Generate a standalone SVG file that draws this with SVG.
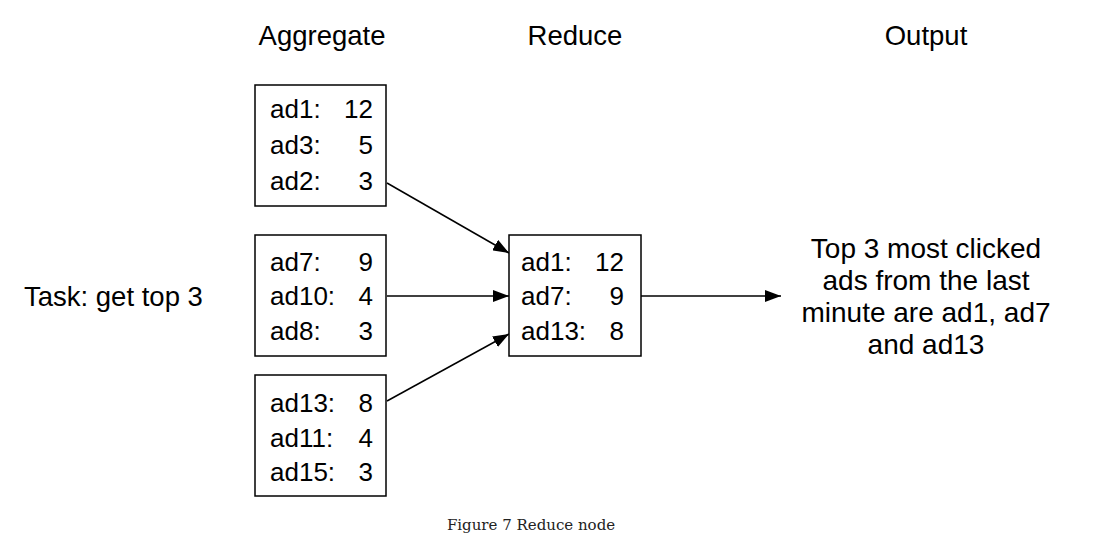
<svg xmlns="http://www.w3.org/2000/svg" width="1113" height="543" viewBox="0 0 1113 543">
<style>
text{font-family:"Liberation Sans",Arial,sans-serif;fill:#000}
.t{font-size:27.5px}
.o{font-size:28px}
.b{font-size:26px}
.n{text-anchor:end}
.c{text-anchor:middle}
.box{fill:#fff;stroke:#000;stroke-width:1.5}
.ln{stroke:#000;stroke-width:1.5;fill:none;marker-end:url(#ah)}
.cap{font-family:"DejaVu Serif",serif;font-size:15px;text-anchor:middle;fill:#222}
</style>
<defs>
<marker id="ah" viewBox="0 0 16 12" refX="16" refY="6" markerWidth="16" markerHeight="12" markerUnits="userSpaceOnUse" orient="auto">
<path d="M0,0 L16,6 L0,12 Z" fill="#000"/>
</marker>
</defs>
<rect width="1113" height="543" fill="#fff"/>
<g id="titles">
<text class="t c" x="322" y="45">Aggregate</text>
<text class="t c" x="575" y="45">Reduce</text>
<text class="t c" x="926" y="45">Output</text>
</g>
<g id="task"><text class="t" x="24" y="306">Task: get top 3</text></g>
<g id="connectors">
<line class="ln" x1="387" y1="183" x2="509" y2="253"/>
<line class="ln" x1="387" y1="296" x2="509" y2="296"/>
<line class="ln" x1="387" y1="401" x2="509" y2="334"/>
<line class="ln" x1="641" y1="296" x2="781" y2="296"/>
</g>
<g id="agg1">
<rect class="box" x="255" y="85" width="131" height="121"/>
<text class="b" x="270" y="118">ad1:</text><text class="b n" x="373" y="118">12</text>
<text class="b" x="270" y="154">ad3:</text><text class="b n" x="373" y="154">5</text>
<text class="b" x="270" y="190">ad2:</text><text class="b n" x="373" y="190">3</text>
</g>
<g id="agg2">
<rect class="box" x="255" y="235" width="131" height="121"/>
<text class="b" x="270" y="271">ad7:</text><text class="b n" x="373" y="271">9</text>
<text class="b" x="270" y="305">ad10:</text><text class="b n" x="373" y="305">4</text>
<text class="b" x="270" y="340">ad8:</text><text class="b n" x="373" y="340">3</text>
</g>
<g id="agg3">
<rect class="box" x="255" y="375" width="131" height="121"/>
<text class="b" x="270" y="412">ad13:</text><text class="b n" x="373" y="412">8</text>
<text class="b" x="270" y="447">ad11:</text><text class="b n" x="373" y="447">4</text>
<text class="b" x="270" y="481">ad15:</text><text class="b n" x="373" y="481">3</text>
</g>
<g id="reduce">
<rect class="box" x="509" y="235" width="132" height="121"/>
<text class="b" x="521" y="271">ad1:</text><text class="b n" x="624" y="271">12</text>
<text class="b" x="521" y="305">ad7:</text><text class="b n" x="624" y="305">9</text>
<text class="b" x="521" y="340">ad13:</text><text class="b n" x="624" y="340">8</text>
</g>
<g id="output">
<text class="o c" x="926" y="258">Top 3 most clicked</text>
<text class="o c" x="926" y="290">ads from the last</text>
<text class="o c" x="926" y="322">minute are ad1, ad7</text>
<text class="o c" x="926" y="354">and ad13</text>
</g>
<g id="caption"><text class="cap" x="531" y="530">Figure 7 Reduce node</text></g>
</svg>
